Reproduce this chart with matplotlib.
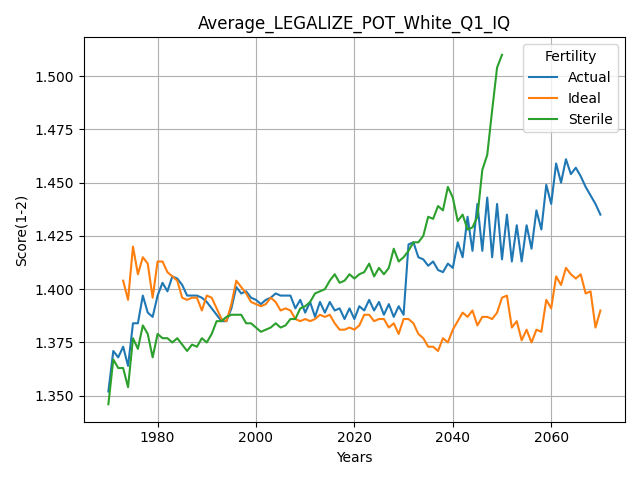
import numpy as np
import matplotlib
matplotlib.use("Agg")
from matplotlib import pyplot as plt

years_actual = np.arange(1970, 2071)
actual = [1.352, 1.371, 1.368, 1.373, 1.364, 1.384, 1.384, 1.397, 1.389, 1.387,
          1.397, 1.403, 1.399, 1.406, 1.405, 1.402, 1.397, 1.397, 1.397, 1.396,
          1.394, 1.391, 1.388, 1.385, 1.385, 1.391, 1.401, 1.398, 1.399, 1.396,
          1.395, 1.393, 1.395, 1.396, 1.398, 1.397, 1.397, 1.397, 1.391, 1.395,
          1.389, 1.394, 1.387, 1.394, 1.389, 1.394, 1.390, 1.391, 1.386, 1.391,
          1.386, 1.392, 1.390, 1.395, 1.390, 1.394, 1.388, 1.393, 1.387, 1.392,
          1.388, 1.421, 1.422, 1.415, 1.414, 1.411, 1.413, 1.409, 1.408, 1.412,
          1.410, 1.422, 1.415, 1.434, 1.418, 1.440, 1.418, 1.443, 1.415, 1.440,
          1.414, 1.435, 1.413, 1.430, 1.413, 1.430, 1.419, 1.437, 1.428, 1.449,
          1.440, 1.459, 1.450, 1.461, 1.454, 1.457, 1.453, 1.448, 1.444, 1.440,
          1.435]

years_ideal = np.arange(1973, 2071)
ideal = [1.404, 1.395, 1.420, 1.407, 1.415, 1.412, 1.396,
         1.413, 1.413, 1.408, 1.406, 1.404, 1.396, 1.395, 1.396, 1.396, 1.390,
         1.397, 1.396, 1.391, 1.386, 1.385, 1.393, 1.404, 1.401, 1.398, 1.394,
         1.393, 1.392, 1.393, 1.396, 1.394, 1.390, 1.391, 1.390, 1.386, 1.385,
         1.386, 1.385, 1.386, 1.388, 1.387, 1.388, 1.384, 1.381, 1.381, 1.382,
         1.381, 1.383, 1.388, 1.388, 1.385, 1.386, 1.386, 1.382, 1.384, 1.379,
         1.386, 1.386, 1.384, 1.379, 1.377, 1.373, 1.373, 1.371, 1.377, 1.375,
         1.381, 1.385, 1.389, 1.387, 1.390, 1.383, 1.387, 1.387, 1.386, 1.389,
         1.396, 1.397, 1.382, 1.385, 1.376, 1.381, 1.375, 1.381, 1.380, 1.395,
         1.391, 1.406, 1.402, 1.410, 1.407, 1.405, 1.407, 1.398, 1.399, 1.382,
         1.390]

years_sterile = np.arange(1970, 2051)
sterile = [1.346, 1.367, 1.363, 1.363, 1.354, 1.377, 1.372, 1.383, 1.379, 1.368,
           1.379, 1.377, 1.377, 1.375, 1.377, 1.374, 1.371, 1.374, 1.373, 1.377,
           1.375, 1.379, 1.385, 1.385, 1.387, 1.388, 1.388, 1.388, 1.384, 1.384,
           1.382, 1.380, 1.381, 1.382, 1.384, 1.382, 1.383, 1.386, 1.386, 1.391,
           1.392, 1.394, 1.398, 1.399, 1.400, 1.404, 1.407, 1.403, 1.404, 1.407,
           1.405, 1.407, 1.408, 1.412, 1.406, 1.410, 1.407, 1.410, 1.419, 1.413,
           1.415, 1.418, 1.422, 1.422, 1.425, 1.434, 1.433, 1.439, 1.437, 1.448,
           1.443, 1.432, 1.435, 1.428, 1.429, 1.434, 1.456, 1.463, 1.484, 1.504,
           1.510]

fig, ax = plt.subplots(figsize=(6.4, 4.8), dpi=100)
ax.plot(years_actual, actual, label='Actual')
ax.plot(years_ideal, ideal, label='Ideal')
ax.plot(years_sterile, sterile, label='Sterile')

ax.set_title('Average_LEGALIZE_POT_White_Q1_IQ')
ax.set_xlabel('Years')
ax.set_ylabel('Score(1-2)')
ax.grid(True)
ax.legend(title='Fertility', loc='upper right')
plt.tight_layout()
plt.savefig('out.png')
